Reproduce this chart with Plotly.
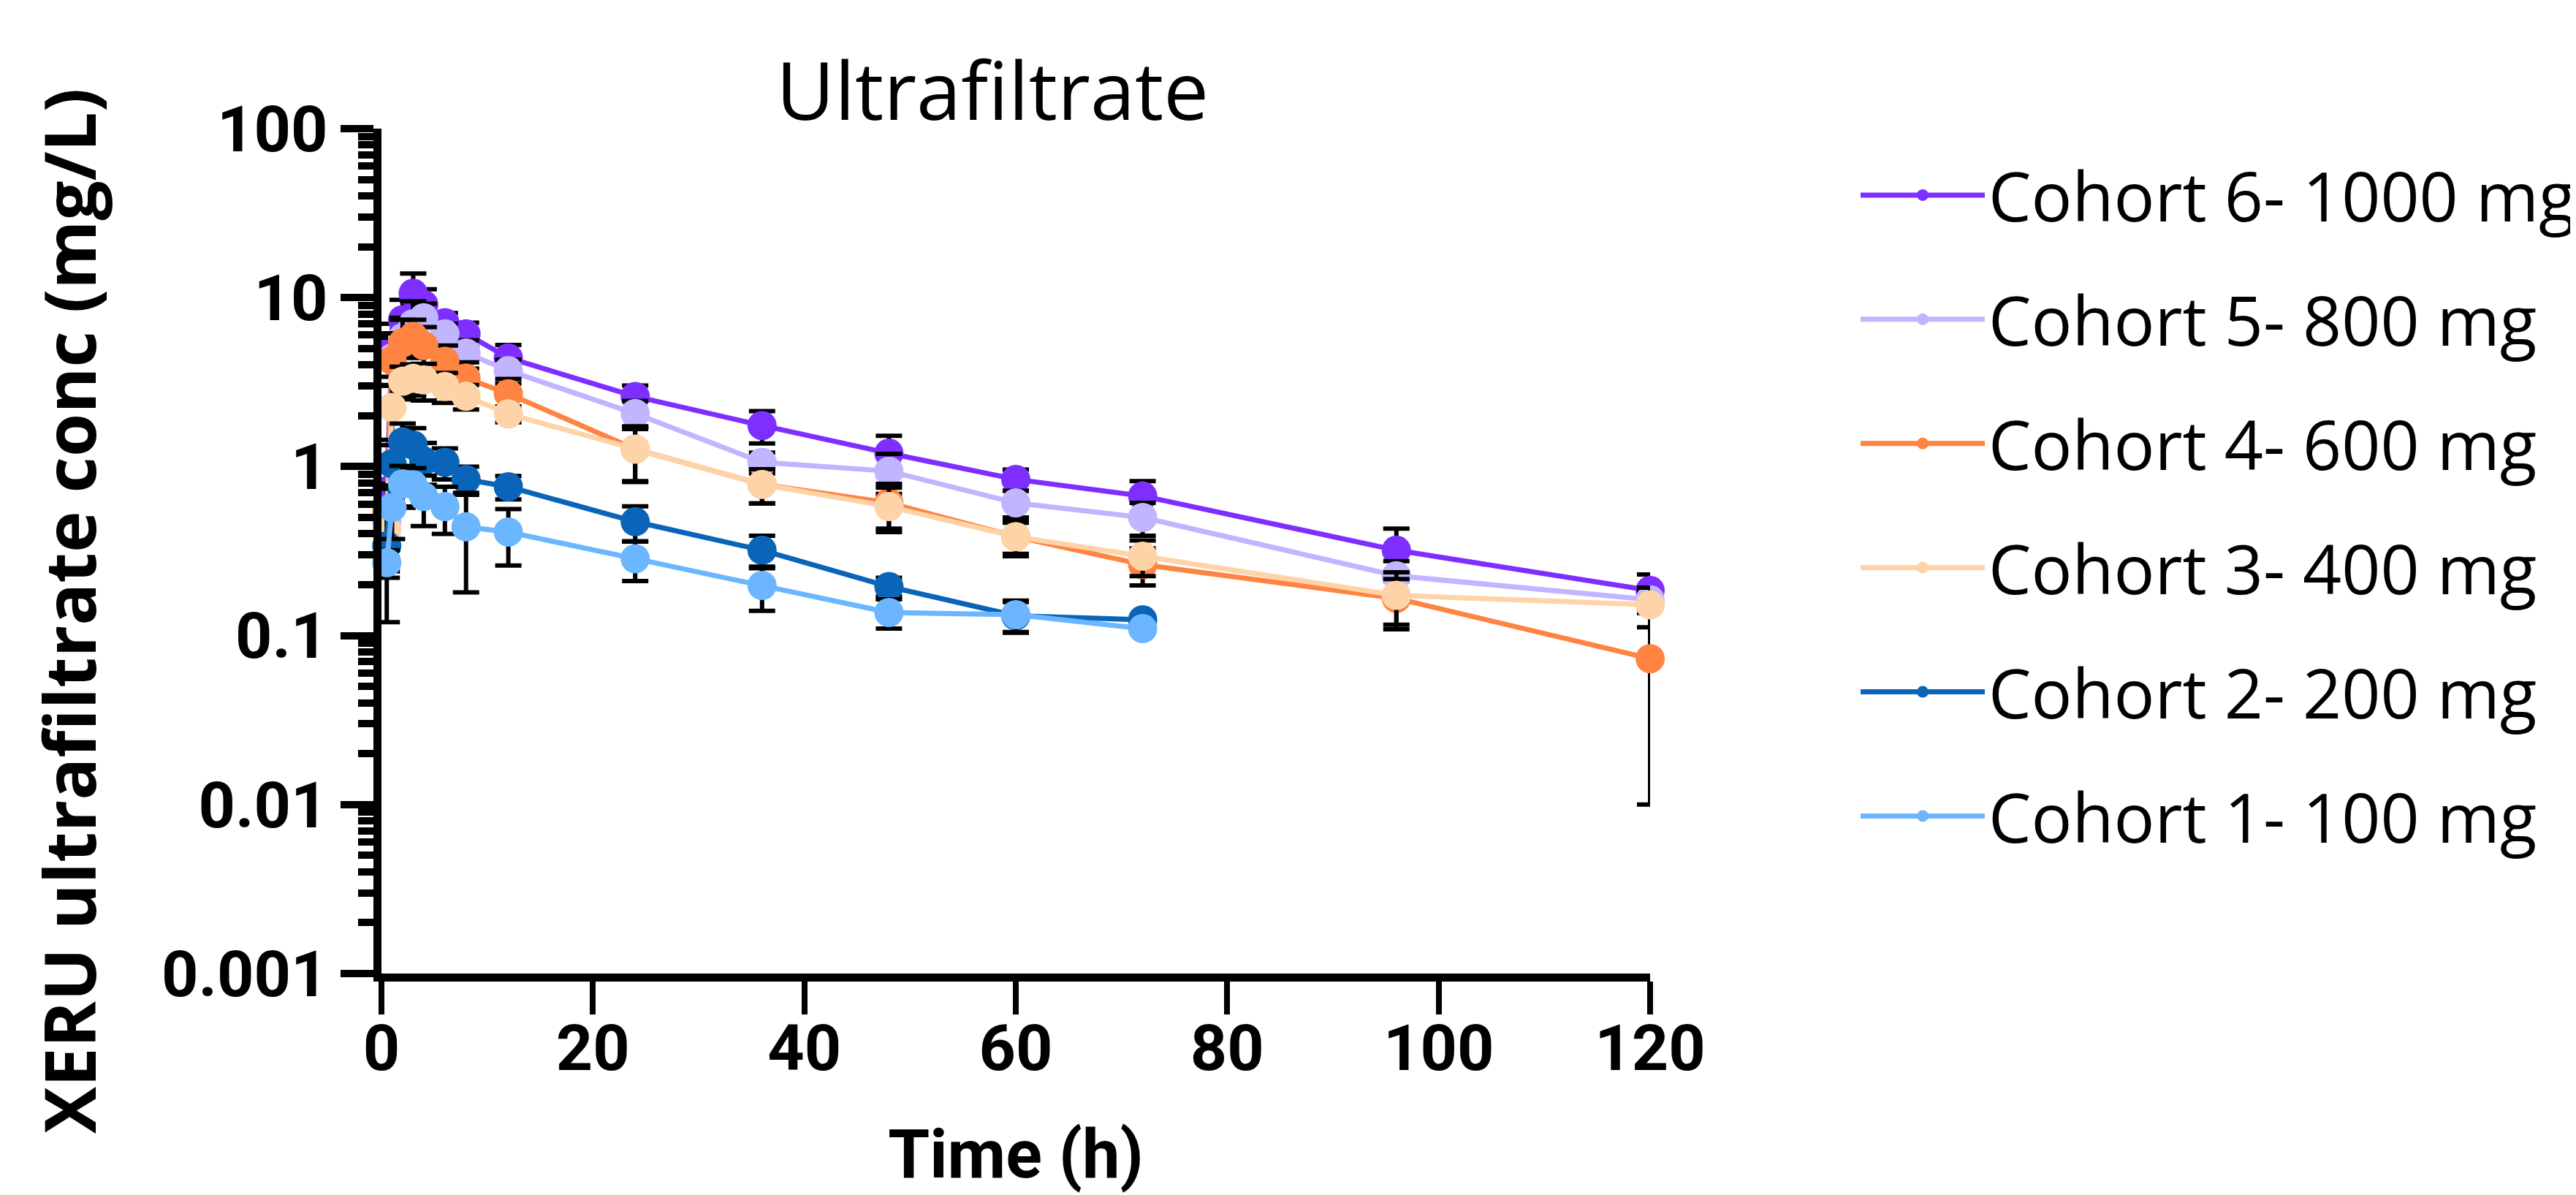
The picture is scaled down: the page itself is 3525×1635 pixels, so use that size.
import plotly.graph_objects as go

# ---- data ----
times_long = [0.5, 1, 2, 3, 4, 6, 8, 12, 24, 36, 48, 60, 72, 96, 120]
times_short = [0.5, 1, 2, 3, 4, 6, 8, 12, 24, 36, 48, 60, 72]

names = ["Cohort 6- 1000 mg", "Cohort 5- 800 mg", "Cohort 4- 600 mg",
         "Cohort 3- 400 mg", "Cohort 2- 200 mg", "Cohort 1- 100 mg"]
colors = ["#7E2FFF", "#C1B5FF", "#FF8442", "#FFD3A8", "#0A64B8", "#6BB6FF"]

c6 = [0.72, 5.2, 7.4, 10.6, 9.1, 7.1, 6.1, 4.4, 2.6, 1.75, 1.2, 0.84, 0.67, 0.32, 0.185]
c6_sd = [0.3, 1.8, 2.3, 3.3, 2.1, 1.0, 1.0, 0.85, 0.42, 0.38, 0.32, 0.12, 0.15, 0.11, 0.045]
c5 = [0.47, 4.4, 5.8, 7.0, 7.6, 6.1, 4.7, 3.7, 2.06, 1.06, 0.94, 0.61, 0.50, 0.226, 0.163]
c5_sd = [0.15, 1.4, 1.8, 2.5, 1.6, 0.9, 0.9, 0.6, 0.39, 0.15, 0.25, 0.11, 0.11, 0.05, 0.02]
c4 = [0.54, 4.25, 5.4, 5.9, 5.2, 4.2, 3.34, 2.7, 1.27, 0.785, 0.61, 0.385, 0.263, 0.166, 0.073]
c4_sd = [0.25, 1.9, 2.0, 1.5, 1.5, 1.0, 0.8, 0.6, 0.46, 0.18, 0.18, 0.08, 0.065, 0.05, 0.063]
c3 = [0.42, 2.24, 3.2, 3.33, 3.26, 2.98, 2.61, 2.05, 1.27, 0.785, 0.58, 0.385, 0.295, 0.173, 0.152]
c3_sd = [0.18, 0.8, 0.7, 0.7, 0.8, 0.6, 0.43, 0.22, 0.45, 0.18, 0.17, 0.09, 0.07, 0.064, 0.04]
c2 = [0.34, 1.04, 1.40, 1.34, 1.08, 1.06, 0.84, 0.76, 0.472, 0.32, 0.195, 0.131, 0.124]
c2_sd = [0.22, 0.3, 0.4, 0.35, 0.3, 0.22, 0.16, 0.12, 0.11, 0.07, 0.025, 0.027, 0.0]
c1 = [0.27, 0.573, 0.79, 0.78, 0.665, 0.58, 0.44, 0.41, 0.285, 0.198, 0.137, 0.133, 0.11]
c1_sd = [0.05, 0.2, 0.22, 0.2, 0.22, 0.18, 0.26, 0.15, 0.075, 0.058, 0.027, 0.028, 0.0]

y_tickvals = [0.001, 0.01, 0.1, 1, 10, 100]
y_ticktext = ["0.001", "0.01", "0.1", "1", "10", "100"]
x_tickvals = [0, 20, 40, 60, 80, 100, 120]

series = [
    (times_long, c6, c6_sd),
    (times_long, c5, c5_sd),
    (times_long, c4, c4_sd),
    (times_long, c3, c3_sd),
    (times_short, c2, c2_sd),
    (times_short, c1, c1_sd),
]

TICKFONT = "Roboto"
TEXTFONT = "Open Sans"

L, R, T, B = 514, 1275, 168, 311
PW, PH = 3525 - L - R, 1635 - T - B

fig = go.Figure()
for i, ((t, v, sd), name, col) in enumerate(zip(series, names, colors)):
    fig.add_trace(go.Scatter(
        x=t, y=v, name=name, mode="lines+markers",
        line=dict(color=col, width=7),
        marker=dict(color=col, size=40, symbol="circle"),
        error_y=dict(type="data", array=sd, visible=True, color="black",
                     thickness=6, width=18),
        cliponaxis=False,
        legendgroup=f"g{i}",
    ))

fig.update_layout(
    width=3525, height=1635,
    paper_bgcolor="white", plot_bgcolor="white",
    margin=dict(l=L, r=R, t=T, b=B, autoexpand=False),
    font=dict(family=TEXTFONT, color="black"),
    title=dict(text="Ultrafiltrate", x=1350 / 3525, xanchor="center",
               y=1 - 117 / 1635, yanchor="middle",
               font=dict(family=TEXTFONT, size=110, color="black")),
    showlegend=True,
    legend=dict(x=(2533 - L) / PW, y=(1635 - B - 192) / PH, xanchor="left", yanchor="top",
                traceorder="grouped", tracegroupgap=46,
                font=dict(family=TEXTFONT, size=93, color="black"),
                itemwidth=170, bgcolor="rgba(0,0,0,0)"),
    xaxis=dict(
        range=[0, 120], tickvals=x_tickvals,
        showline=True, linecolor="black", linewidth=11,
        ticks="outside", ticklen=45, tickwidth=8, tickcolor="black",
        tickfont=dict(family=TICKFONT, size=88, color="black", weight="bold"),
        ticklabelstandoff=-30,
        showgrid=False, zeroline=False,
        title=dict(text="<b>Time (h)</b>", standoff=68,
                   font=dict(family=TICKFONT, size=92, color="black")),
    ),
    yaxis=dict(
        type="log", range=[-3, 2],
        tickvals=y_tickvals, ticktext=y_ticktext,
        showline=True, linecolor="black", linewidth=11,
        ticks="outside", ticklen=45, tickwidth=10, tickcolor="black",
        tickfont=dict(family=TICKFONT, size=88, color="black", weight="bold"),
        ticklabelstandoff=0,
        minor=dict(ticks="outside", ticklen=21, tickwidth=10, tickcolor="black",
                   dtick="D1", showgrid=False),
        showgrid=False, zeroline=False,
    ),
    annotations=[dict(
        text="<b>XERU ultrafiltrate conc (mg/L)</b>",
        xref="paper", yref="paper", x=(85 - L) / PW, y=(1635 - B - 828) / PH,
        xanchor="center", yanchor="middle", textangle=-90, showarrow=False,
        font=dict(family=TEXTFONT, size=96, color="black"),
    )],
)

fig.write_html("out.html")
